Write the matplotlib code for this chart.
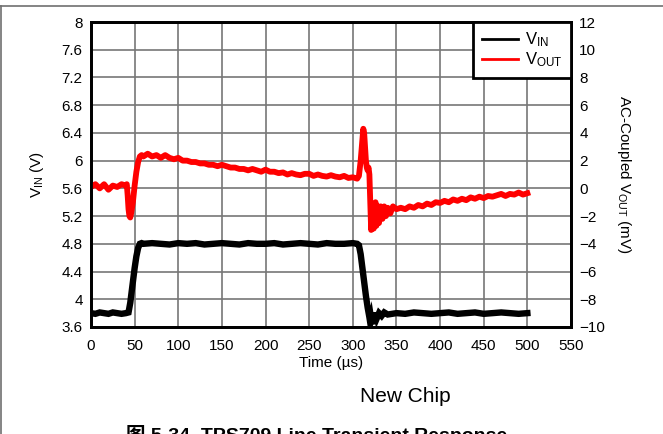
import matplotlib
matplotlib.use("Agg")
import matplotlib.pyplot as plt
from matplotlib.lines import Line2D

plt.rcParams['font.family'] = ['Liberation Sans', 'Noto Sans CJK SC', 'DejaVu Sans']
plt.rcParams['mathtext.fontset'] = 'custom'
plt.rcParams['mathtext.rm'] = 'Liberation Sans'
plt.rcParams['mathtext.it'] = 'Liberation Sans'

# ---- data (time in us) ----
vin_time = [0, 5, 10, 15, 20, 25, 30, 35, 40, 43, 45, 47, 50, 52, 54, 56, 58,
            60, 70, 80, 90, 100, 110, 120, 130, 140, 150, 160, 170, 180, 190,
            200, 210, 220, 230, 240, 250, 260, 270, 280, 290, 300, 305, 307,
            309, 311, 313, 315, 317, 319, 320, 321, 322, 323, 324, 325, 326,
            327, 328, 330, 333, 336, 340, 350, 360, 370, 380, 390, 400, 410,
            420, 430, 440, 450, 460, 470, 480, 490, 500]
vin_volts = [3.80, 3.79, 3.81, 3.80, 3.79, 3.81, 3.80, 3.79, 3.80, 3.81, 3.95, 4.15,
             4.45, 4.62, 4.74, 4.80, 4.81,
             4.80, 4.81, 4.80, 4.79, 4.81, 4.80, 4.81, 4.79, 4.80, 4.81, 4.80, 4.79,
             4.81, 4.80, 4.80, 4.81, 4.79, 4.80, 4.81, 4.80, 4.79, 4.81, 4.80,
             4.80, 4.81, 4.80, 4.78, 4.65, 4.45, 4.25, 4.05, 3.88, 3.74, 3.66,
             3.72, 3.64, 3.78, 3.68, 3.80, 3.70, 3.81, 3.74, 3.80, 3.76, 3.81,
             3.78, 3.80, 3.79, 3.81, 3.80, 3.79, 3.80, 3.81, 3.79, 3.80, 3.81,
             3.79, 3.80, 3.81, 3.80, 3.79, 3.80]

vout_time = [0, 5, 10, 15, 20, 25, 30, 35, 40, 41, 42, 43, 44, 45, 46, 48,
             50, 52, 54, 56, 58, 60, 65, 70, 75, 80, 85, 90, 95, 100, 105,
             110, 115, 120, 125, 130, 135, 140, 145, 150, 155, 160, 165, 170,
             175, 180, 185, 190, 195, 200, 205, 210, 215, 220, 225, 230, 235,
             240, 245, 250, 255, 260, 265, 270, 275, 280, 285, 290, 295, 300,
             305, 307, 309, 311, 312, 313, 314, 315, 316, 317, 318, 319, 320,
             321, 322, 323, 324, 325, 326, 327, 328, 329, 330, 332, 334, 336,
             338, 340, 343, 346, 350, 355, 360, 365, 370, 375, 380, 385, 390,
             395, 400, 405, 410, 415, 420, 425, 430, 435, 440, 445, 450, 455,
             460, 465, 470, 475, 480, 485, 490, 495, 500]
vout_mv = [0.1, 0.3, 0.0, 0.3, -0.1, 0.2, 0.1, 0.3, 0.2, 0.3, -0.5, -1.5, -2.0,
           -2.1, -1.8, -1.0, 0.2, 1.2, 1.9, 2.3, 2.4, 2.3, 2.5, 2.3, 2.4, 2.2,
           2.4, 2.2, 2.1, 2.2, 2.0, 2.0, 1.9, 1.9, 1.8, 1.8, 1.7, 1.7, 1.6, 1.7,
           1.6, 1.5, 1.5, 1.4, 1.4, 1.3, 1.4, 1.3, 1.2, 1.35, 1.2, 1.2, 1.1,
           1.15, 1.0, 1.1, 1.0, 0.95, 1.05, 1.05, 0.9, 1.0, 0.9, 0.85, 0.95,
           0.85, 0.8, 0.9, 0.75, 0.8, 0.7, 0.9, 2.0, 3.6, 4.3, 4.0, 3.0, 2.0,
           1.5, 1.3, 1.5, 1.0, -1.0, -3.0, -2.0, -1.2, -2.9, -1.5, -1.0, -2.7,
           -1.4, -1.3, -2.5, -1.3, -2.2, -1.3, -2.0, -1.4, -1.8, -1.3, -1.5,
           -1.4, -1.5, -1.3, -1.4, -1.2, -1.3, -1.1, -1.2, -1.0, -1.05, -0.9,
           -1.0, -0.8, -0.9, -0.75, -0.85, -0.65, -0.75, -0.6, -0.7, -0.55,
           -0.6, -0.5, -0.4, -0.55, -0.4, -0.45, -0.3, -0.45, -0.35]

x_ticks = [0, 50, 100, 150, 200, 250, 300, 350, 400, 450, 500, 550]
left_ticks = [3.6, 4, 4.4, 4.8, 5.2, 5.6, 6, 6.4, 6.8, 7.2, 7.6, 8]
left_labels = ['3.6', '4', '4.4', '4.8', '5.2', '5.6', '6', '6.4', '6.8', '7.2', '7.6', '8']
right_ticks = [-10, -8, -6, -4, -2, 0, 2, 4, 6, 8, 10, 12]

W, H = 663, 434
fig = plt.figure(figsize=(W / 100, H / 100), dpi=100)
ax = fig.add_axes([91 / W, 1 - 327 / H, (571 - 91) / W, (327 - 22) / H])
ax2 = ax.twinx()

ax.plot(vin_time, vin_volts, color='black', lw=4.6, solid_joinstyle='miter')
ax2.plot(vout_time, vout_mv, color='#ff0000', lw=4.2)

ax.set_xlim(0, 550)
ax.set_ylim(3.6, 8)
ax2.set_ylim(-10, 12)
ax.set_xticks(x_ticks)
ax.set_yticks(left_ticks)
ax.set_yticklabels(left_labels)
ax2.set_yticks(right_ticks)
ax.grid(True, color='#777777', lw=1.2)
ax.set_axisbelow(True)

for a in (ax, ax2):
    for s in a.spines.values():
        s.set_linewidth(2.0)
        s.set_color('black')
ax.tick_params(axis='both', length=0, labelsize=11, pad=6)
ax.tick_params(axis='x', pad=9)
ax2.tick_params(axis='y', length=0, labelsize=11, pad=6)

ax.set_xlabel('Time (\u00b5s)', fontsize=11, labelpad=2)
ax.set_ylabel(r'V$_{\mathrm{IN}}$ (V)', fontsize=11, labelpad=11)
ax2.set_ylabel(r'AC-Coupled V$_{\mathrm{OUT}}$ (mV)', fontsize=11, rotation=-90, labelpad=20)

handles = [Line2D([], [], color='black', lw=2), Line2D([], [], color='#ff0000', lw=2)]
leg = ax2.legend(handles, [r'V$_{\mathrm{IN}}$', r'V$_{\mathrm{OUT}}$'], loc='upper right',
                 borderaxespad=0, fancybox=False, framealpha=1, edgecolor='black',
                 fontsize=12, handlelength=2.2, handletextpad=0.4, labelspacing=0.1,
                 borderpad=0.5)
leg.get_frame().set_linewidth(2.0)

fig.text(405 / W, 1 - 397 / H, 'New Chip', ha='center', va='center', fontsize=15)
fig.text(126 / W, 1 - 425 / H, '图 5-34. TPS709 Line Transient Response', ha='left', va='top',
         fontsize=14, fontweight='bold',
         family=['Liberation Sans', 'Noto Sans CJK SC'])

fig.add_artist(Line2D([0, 1], [1 - 5.5 / H, 1 - 5.5 / H], color='#707070', lw=1.2,
                      transform=fig.transFigure))
fig.add_artist(Line2D([0.8 / W, 0.8 / W], [0, 1 - 5.5 / H], color='#707070', lw=1.2,
                      transform=fig.transFigure))

fig.savefig('out.png', dpi=100)
